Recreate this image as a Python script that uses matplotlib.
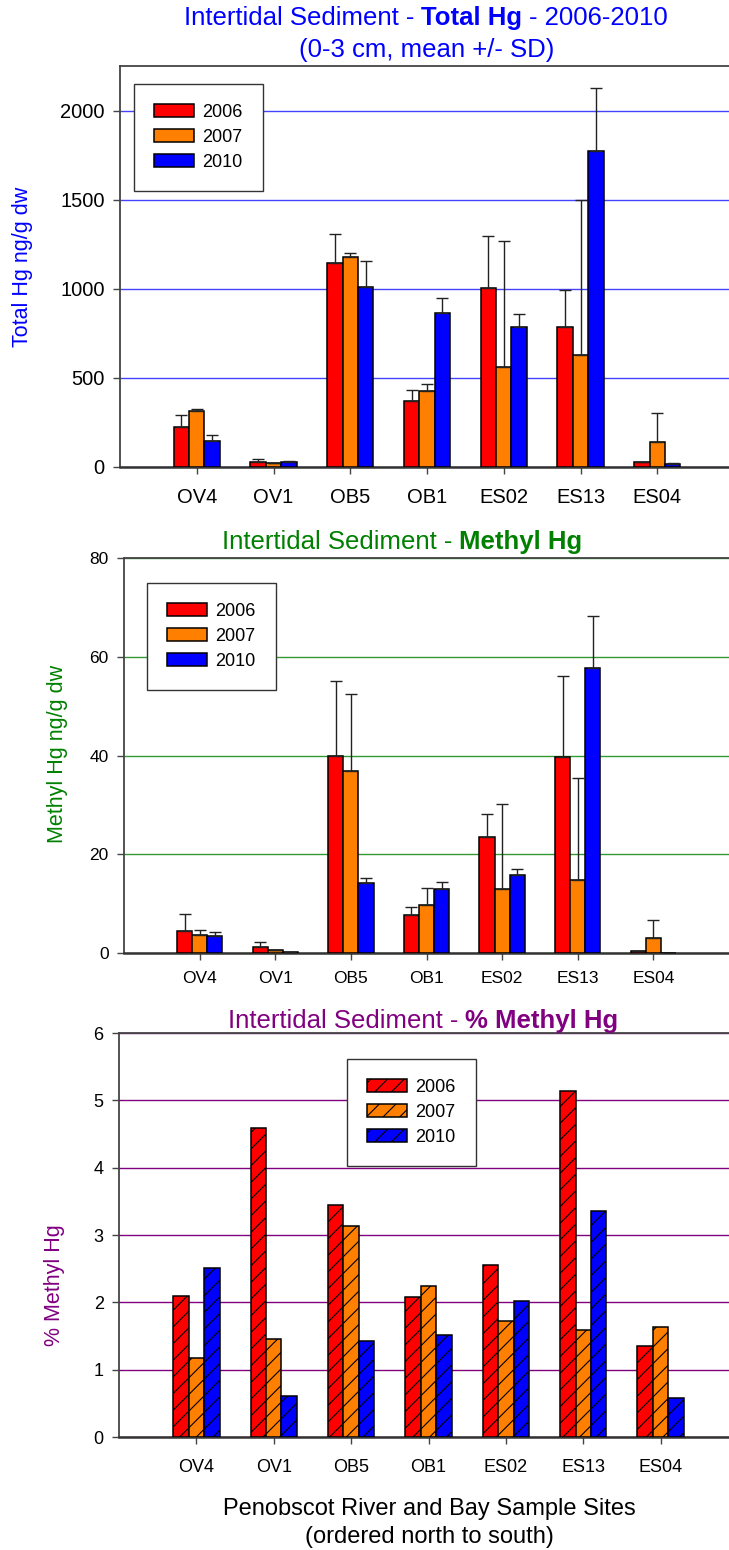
import numpy as np
import matplotlib
matplotlib.use('Agg')
import matplotlib.pyplot as plt

plt.rcParams['font.family'] = ['Liberation Sans', 'DejaVu Sans']
plt.rcParams['hatch.linewidth'] = 0.8

# Sites along the river and bay, north to south
sites = ['OV4', 'OV1', 'OB5', 'OB1', 'ES02', 'ES13', 'ES04']
years = ['2006', '2007', '2010']
bar_colors = ['#ff0000', '#ff8000', '#0000ff']

# Total Hg (ng/g dw), mean and SD
thg_2006 = [225, 26, 1144, 369, 1002, 785, 26]
thg_2007 = [313, 22, 1178, 425, 560, 631, 142]
thg_2010 = [148, 26, 1011, 863, 783, 1771, 19]
thg_sd_2006 = [67, 17, 161, 62, 296, 208, 0]
thg_sd_2007 = [11, 0, 22, 39, 710, 865, 160]
thg_sd_2010 = [30, 6, 144, 88, 73, 353, 3]

# Methyl Hg (ng/g dw), mean and SD
mehg_2006 = [4.4, 1.3, 40.0, 7.7, 23.5, 39.7, 0.4]
mehg_2007 = [3.7, 0.55, 36.8, 9.7, 12.9, 14.8, 3.0]
mehg_2010 = [3.5, 0.2, 14.1, 13.0, 15.8, 57.8, 0.1]
mehg_sd_2006 = [3.4, 0.9, 15.1, 1.7, 4.6, 16.4, 0]
mehg_sd_2007 = [1.0, 0, 15.6, 3.5, 17.3, 20.7, 3.6]
mehg_sd_2010 = [0.8, 0, 1.1, 1.4, 1.3, 10.4, 0]

# Percent methyl Hg
pct_2006 = [2.10, 4.59, 3.45, 2.08, 2.55, 5.14, 1.35]
pct_2007 = [1.17, 1.45, 3.13, 2.24, 1.73, 1.59, 1.63]
pct_2010 = [2.51, 0.61, 1.42, 1.51, 2.02, 3.36, 0.58]

W, H = 729, 1550
fig = plt.figure(figsize=(W / 100, H / 100), dpi=100)


def px_axes(left, top, right, bottom):
    return fig.add_axes([left / W, 1 - bottom / H, (right - left) / W, (bottom - top) / H])


def draw_panel(ax, means, sds, ymax, step, grid_color, tick_size, xpad, hatch=None):
    x = np.arange(1, len(sites) + 1)
    width = 0.2
    for i, (vals, color, label) in enumerate(zip(means, bar_colors, years)):
        pos = x + (i - 1) * width
        ax.bar(pos, vals, width, color=color, edgecolor='black', linewidth=1.1,
               hatch=hatch, label=label, zorder=3)
        if sds is not None:
            ax.errorbar(pos, vals, yerr=[np.zeros(len(vals)), sds[i]], fmt='none',
                        ecolor='#222222', elinewidth=1, capsize=4.5, capthick=1, zorder=4)
    ax.set_xlim(0, 8)
    ax.set_ylim(0, ymax)
    ax.set_yticks(np.arange(0, ymax + 0.001, step))
    ax.set_xticks(x)
    ax.set_xticklabels(sites)
    ax.yaxis.grid(True, color=grid_color, linewidth=1)
    ax.set_axisbelow(True)
    ax.spines['right'].set_visible(False)
    for side in ['left', 'top']:
        ax.spines[side].set_color('#444444')
        ax.spines[side].set_linewidth(1.3)
    ax.spines['bottom'].set_color('#333333')
    ax.spines['bottom'].set_linewidth(1.8)
    ax.tick_params(axis='y', direction='out', length=5, width=1, color='#444444',
                   labelsize=tick_size, pad=6)
    ax.tick_params(axis='x', direction='out', length=5, width=1, color='#444444',
                   labelsize=tick_size, pad=xpad)


def add_legend(ax, left, top, size):
    leg = ax.legend(loc='upper left', bbox_to_anchor=(left / W, 1 - top / H),
                    bbox_transform=fig.transFigure, borderaxespad=0, fontsize=size,
                    handlelength=2.2, handleheight=0.67, handletextpad=0.5,
                    labelspacing=0.44, borderpad=1.1, fancybox=False, framealpha=1)
    leg.get_frame().set_edgecolor('#333333')
    leg.get_frame().set_linewidth(1)


def mixed_text(x_px, y_px, parts, color, size):
    # centre a line made of normal and bold pieces
    renderer = fig.canvas.get_renderer()
    probe_a = fig.text(0, 0, 'x x', fontsize=size)
    probe_b = fig.text(0, 0, 'xx', fontsize=size)
    gap = probe_a.get_window_extent(renderer).width - probe_b.get_window_extent(renderer).width
    probe_a.remove()
    probe_b.remove()
    texts, widths = [], []
    for s, weight in parts:
        t = fig.text(0, 0, s, color=color, fontsize=size, fontweight=weight,
                     ha='left', va='center')
        texts.append(t)
        widths.append(t.get_window_extent(renderer).width)
    left = x_px - (sum(widths) + gap * (len(parts) - 1)) / 2
    for t, w in zip(texts, widths):
        t.set_position((left / W, 1 - y_px / H))
        left += w + gap


title_size = 18.5
label_size = 15.5

# Total Hg
ax1 = px_axes(120, 66, 734, 467)
draw_panel(ax1, [thg_2006, thg_2007, thg_2010], [thg_sd_2006, thg_sd_2007, thg_sd_2010],
           2250, 500, '#4444ff', 14.5, 10)
add_legend(ax1, 134, 84, 13)
mixed_text(426, 18, [('Intertidal Sediment -', 'normal'), ('Total Hg', 'bold'),
                     ('- 2006-2010', 'normal')], '#0000ff', title_size)
fig.text(427 / W, 1 - 50 / H, '(0-3 cm, mean +/- SD)', color='#0000ff', fontsize=title_size,
         ha='center', va='center')
fig.text(23 / W, 1 - 267 / H, 'Total Hg ng/g dw', color='#0000ff', fontsize=label_size,
         rotation=90, ha='center', va='center')

# Methyl Hg
ax2 = px_axes(124, 558, 729, 953)
draw_panel(ax2, [mehg_2006, mehg_2007, mehg_2010], [mehg_sd_2006, mehg_sd_2007, mehg_sd_2010],
           80, 20, '#339933', 12.5, 8)
add_legend(ax2, 147, 583, 13)
mixed_text(402, 542, [('Intertidal Sediment -', 'normal'), ('Methyl Hg', 'bold')],
           '#008000', title_size)
fig.text(57 / W, 1 - 754 / H, 'Methyl Hg ng/g dw', color='#008000', fontsize=label_size,
         rotation=90, ha='center', va='center')

# Percent methyl Hg
ax3 = px_axes(119, 1033, 738, 1437)
draw_panel(ax3, [pct_2006, pct_2007, pct_2010], None, 6, 1, '#800080', 13, 11, hatch='//')
add_legend(ax3, 347, 1059, 13)
mixed_text(423, 1021, [('Intertidal Sediment -', 'normal'), ('% Methyl Hg', 'bold')],
           '#800080', title_size)
fig.text(55 / W, 1 - 1285 / H, '% Methyl Hg', color='#800080', fontsize=label_size,
         rotation=90, ha='center', va='center')
fig.text(429 / W, 1 - 1509 / H, 'Penobscot River and Bay Sample Sites', fontsize=17,
         ha='center', va='center')
fig.text(429 / W, 1 - 1537 / H, '(ordered north to south)', fontsize=17,
         ha='center', va='center')

fig.savefig('out.png', dpi=100)
